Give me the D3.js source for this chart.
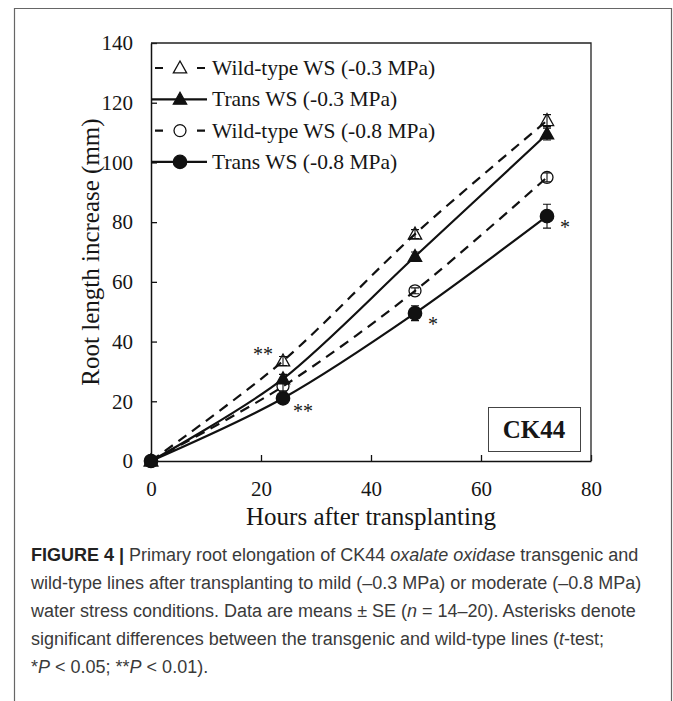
<!DOCTYPE html>
<html>
<head>
<meta charset="utf-8">
<script src="https://cdn.jsdelivr.net/npm/d3@7"></script>
<style>
  body { margin: 0; background: #fff; }
  svg { display: block; }
  .serif { font-family: "Liberation Serif", "Times New Roman", serif; fill: #161616; }
  .caption { font-family: "Liberation Sans", Arial, sans-serif; font-size: 18px; fill: #3a3a3a; }
</style>
</head>
<body>
<div id="chart"></div>
<script>
// datos
const hours = [0, 24, 48, 72];
const wt03 = [0, 33.5, 76, 114];
const wt03se = [0, 1.5, 1.5, 2];
const tr03 = [0, 27.5, 68.5, 109.5];
const tr03se = [0, 1.5, 1.5, 2];
const wt08 = [0, 25, 57, 95];
const wt08se = [0, 1.5, 1, 1.5];
const tr08 = [0, 21, 49.5, 82];
const tr08se = [0, 1, 2.5, 4];

const seriesNames = ["Wild-type WS (-0.3 MPa)", "Trans WS (-0.3 MPa)", "Wild-type WS (-0.8 MPa)", "Trans WS (-0.8 MPa)"];
const xTicks = [0, 20, 40, 60, 80];
const yTicks = [0, 20, 40, 60, 80, 100, 120, 140];

// asteriscos (t-test)
const starHours = [24, 24, 48, 72];
const starValues = [33.5, 21, 49.5, 82];
const starLabels = ["**", "**", "*", "*"];

const captionLines = [
    "Primary root elongation of CK44 <i>oxalate oxidase</i> transgenic and",
    "wild-type lines after transplanting to mild (\u20130.3 MPa) or moderate (\u20130.8 MPa)",
    "water stress conditions. Data are means \u00b1 SE (<i>n</i> = 14\u201320). Asterisks denote",
    "significant differences between the transgenic and wild-type lines (<i>t</i>-test;",
    "*<i>P</i> &lt; 0.05; **<i>P</i> &lt; 0.01)."
];

const series = [
    { name: seriesNames[0], values: wt03, se: wt03se, dashed: true, shape: "triangle", filled: false },
    { name: seriesNames[1], values: tr03, se: tr03se, dashed: false, shape: "triangle", filled: true },
    { name: seriesNames[2], values: wt08, se: wt08se, dashed: true, shape: "circle", filled: false },
    { name: seriesNames[3], values: tr08, se: tr08se, dashed: false, shape: "circle", filled: true }
];

const width = 673, height = 701;
const plot = { left: 151, top: 43, right: 591, bottom: 461 };
const ink = "#111";

const svg = d3.select("#chart").append("svg")
    .attr("width", width)
    .attr("height", height);

// marco exterior
svg.append("path")
    .attr("d", `M14.5,${height + 2} V8.5 H671.5 V${height + 2}`)
    .attr("fill", "none")
    .attr("stroke", "#666")
    .attr("stroke-width", 1.2);

const x = d3.scaleLinear().domain([0, 80]).range([plot.left, plot.right]);
const y = d3.scaleLinear().domain([0, 140]).range([plot.bottom, plot.top]);

// ejes con ticks hacia adentro
const xAxis = svg.append("g")
    .attr("transform", `translate(0,${plot.bottom})`)
    .call(d3.axisBottom(x).tickValues(xTicks).tickSizeInner(-6).tickSizeOuter(0).tickPadding(20));
const yAxis = svg.append("g")
    .attr("transform", `translate(${plot.left},0)`)
    .call(d3.axisLeft(y).tickValues(yTicks).tickSizeInner(-6).tickSizeOuter(0).tickPadding(18));

[xAxis, yAxis].forEach(ax => {
    ax.select(".domain").attr("stroke", ink).attr("stroke-width", 1.5);
    ax.selectAll(".tick line").attr("stroke", ink).attr("stroke-width", 1.3);
    ax.selectAll(".tick text")
        .attr("class", "serif")
        .style("font-size", "21px")
        .attr("fill", "#161616");
});

// lados superior y derecho del area
svg.append("path")
    .attr("d", `M${plot.left},${plot.top} H${plot.right} V${plot.bottom}`)
    .attr("fill", "none")
    .attr("stroke", "#222")
    .attr("stroke-width", 1.3);

// titulos de ejes
svg.append("text")
    .attr("class", "serif")
    .attr("x", (plot.left + plot.right) / 2)
    .attr("y", 525)
    .attr("text-anchor", "middle")
    .style("font-size", "25px")
    .text("Hours after transplanting");

svg.append("text")
    .attr("class", "serif")
    .attr("transform", `translate(99,${(plot.top + plot.bottom) / 2}) rotate(-90)`)
    .attr("text-anchor", "middle")
    .style("font-size", "25px")
    .text("Root length increase (mm)");

const line = d3.line()
    .x((d, i) => x(hours[i]))
    .y(d => y(d))
    .curve(d3.curveCardinal.tension(0.1));

function drawMarker(g, s, cx, cy) {
    if (s.shape === "triangle") {
        const r = 7;
        g.append("path")
            .attr("d", `M${cx},${cy - r} L${cx + r * 0.95},${cy + r * 0.7} L${cx - r * 0.95},${cy + r * 0.7} Z`)
            .attr("fill", s.filled ? ink : "none")
            .attr("stroke", ink)
            .attr("stroke-width", 1.3);
    } else {
        g.append("circle")
            .attr("cx", cx).attr("cy", cy)
            .attr("r", s.filled ? 6.7 : 6)
            .attr("fill", s.filled ? ink : "none")
            .attr("stroke", ink)
            .attr("stroke-width", 1.3);
    }
}

series.forEach(s => {
    svg.append("path")
        .datum(s.values)
        .attr("d", line)
        .attr("fill", "none")
        .attr("stroke", ink)
        .attr("stroke-width", 2.2)
        .attr("stroke-dasharray", s.dashed ? "10,7" : null);
});

series.forEach(s => {
    const g = svg.append("g");
    s.values.forEach((v, i) => {
        const cx = x(hours[i]);
        const e = s.se[i];
        if (e > 0) {
            g.append("path")
                .attr("d", `M${cx},${y(v - e)} V${y(v + e)} M${cx - 4},${y(v - e)} H${cx + 4} M${cx - 4},${y(v + e)} H${cx + 4}`)
                .attr("stroke", ink)
                .attr("stroke-width", 1.1)
                .attr("fill", "none");
        }
        drawMarker(g, s, cx, y(v));
    });
});

// asteriscos
const starDx = [-20, 20, 18, 18];
const starDy = [0, 20, 18, 18];
starLabels.forEach((t, i) => {
    svg.append("text")
        .attr("class", "serif")
        .attr("x", x(starHours[i]) + starDx[i])
        .attr("y", y(starValues[i]) + starDy[i])
        .attr("text-anchor", "middle")
        .style("font-size", "20px")
        .text(t);
});

// leyenda
const legend = svg.append("g");
series.forEach((s, i) => {
    const ly = 68 + i * 31.3;
    const row = legend.append("g");
    row.append("line")
        .attr("x1", s.dashed ? 155 : plot.left).attr("x2", 207)
        .attr("y1", ly).attr("y2", ly)
        .attr("stroke", ink)
        .attr("stroke-width", 2.2)
        .attr("stroke-dasharray", s.dashed ? "8,34" : null);
    drawMarker(row, s, 180, ly);
    row.append("text")
        .attr("class", "serif")
        .attr("x", 212)
        .attr("y", ly + 7)
        .style("font-size", "21.5px")
        .text(s.name);
});

// etiqueta CK44
svg.append("rect")
    .attr("x", 488.5).attr("y", 407.5)
    .attr("width", 92).attr("height", 44)
    .attr("fill", "#fff")
    .attr("stroke", "#444")
    .attr("stroke-width", 1);
svg.append("text")
    .attr("class", "serif")
    .attr("x", 534)
    .attr("y", 438)
    .attr("text-anchor", "middle")
    .style("font-size", "25px")
    .style("font-weight", "bold")
    .text("CK44");

// pie de figura
const cap = svg.append("g");
captionLines.forEach((l, i) => {
    const t = cap.append("text")
        .attr("class", "caption")
        .attr("x", 31)
        .attr("y", 561 + i * 28);
    if (i === 0) {
        t.append("tspan").style("font-weight", "bold").attr("fill", "#222").text("FIGURE 4 | ");
    }
    // partes en cursiva
    l.split(/(<i>.*?<\/i>)/).forEach(part => {
        if (!part) return;
        const it = part.startsWith("<i>");
        const txt = part.replace(/<\/?i>/g, "").replace(/&lt;/g, "<");
        t.append("tspan").style("font-style", it ? "italic" : null).text(txt);
    });
});
</script>
</body>
</html>
